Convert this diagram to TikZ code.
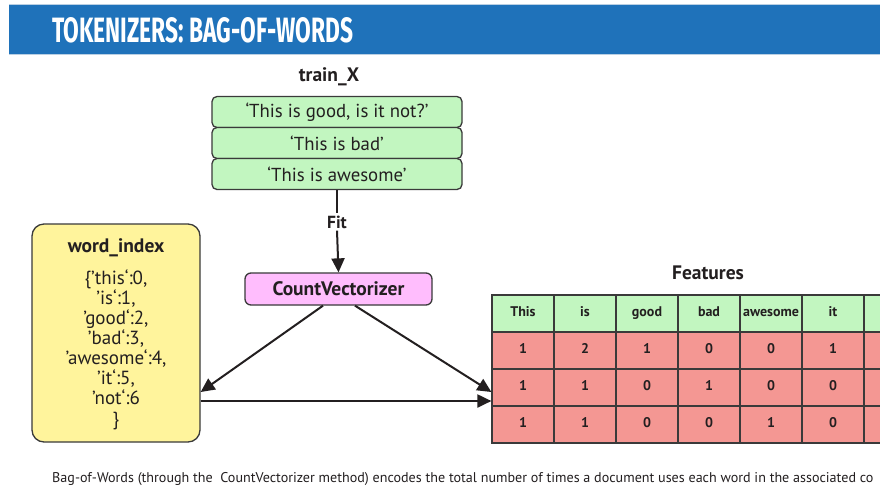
\documentclass[tikz,border=0pt]{standalone}
\usepackage{fontspec}
\setmainfont{PT Sans}
\newfontfamily\headfont{Fira Sans}
\usetikzlibrary{arrows.meta}

\definecolor{bannerblue}{HTML}{1F72BA}
\definecolor{bannerrim}{HTML}{B9CFE3}
\definecolor{docgreen}{HTML}{C2F6C0}
\definecolor{vecpink}{HTML}{FFBDFD}
\definecolor{idxyellow}{HTML}{FFF49C}
\definecolor{cellred}{HTML}{F49793}
\definecolor{ink}{HTML}{231F20}
\definecolor{rim}{HTML}{3A3A3A}

\begin{document}
\begin{tikzpicture}[
  x=1pt, y=-1pt,
  doc/.style={draw=rim, line width=1.3pt, fill=docgreen, rounded corners=5pt,
    minimum width=250pt, minimum height=31pt, inner sep=0pt, text=ink,
    font=\fontsize{18.8}{20}\selectfont},
  vecbox/.style={draw=rim, line width=1.3pt, fill=vecpink, rounded corners=6pt,
    minimum width=187pt, minimum height=32pt, inner sep=0pt, text=ink,
    font=\fontsize{19.5}{20}\selectfont\bfseries},
  idxbox/.style={draw=rim, line width=1.3pt, fill=idxyellow, rounded corners=12pt,
    minimum width=168pt, minimum height=218pt, inner sep=0pt},
  heading/.style={font=\fontsize{19.5}{22}\selectfont\bfseries, text=ink, inner sep=0pt},
  cell/.style={draw=rim, line width=1.2pt, minimum width=62pt, minimum height=37pt,
    inner sep=0pt, text height=1.55ex, text depth=0.4ex,
    font=\fontsize{14}{15}\selectfont\bfseries, text=ink},
  headcell/.style={cell, fill=docgreen},
  valcell/.style={cell, fill=cellred},
  link/.style={draw=ink, line width=2pt},
  flow/.style={link, -{Triangle[length=14pt, width=13pt]}}
]
\clip (0,0) rectangle (880,491);
\fill[white] (0,0) rectangle (880,491);

% title banner
\fill[bannerblue] (9,5) rectangle (880,54);
\draw[bannerrim, line width=1pt] (9,4.5) -- (880,4.5);
\draw[bannerrim, line width=0.8pt] (9,54.6) -- (880,54.6);
\node[anchor=west, inner sep=0pt, text=white] (title) at (52,30.5)
  {\resizebox{301pt}{25pt}{\headfont\bfseries TOKENIZERS: BAG-OF-WORDS}};

% training documents
\node[heading] (trainlbl) at (329,77) {train\_X};
\node[doc] (d1) at (337,112) {‘This is good, is it not?’};
\node[doc] (d2) at (337,143) {‘This is bad’};
\node[doc] (d3) at (337,174) {‘This is awesome’};

% vectorizer
\node[font=\fontsize{17.5}{20}\selectfont\bfseries, text=ink, inner sep=2pt] (fit) at (337,222) {Fit};
\node[vecbox] (cv) at (338.5,289) {CountVectorizer};
\draw[link] (d3.south) -- (fit.north);
\draw[flow] (fit.south) -- (cv.north);

% vocabulary
\node[idxbox] (wi) at (116,333) {};
\node[heading] (wititle) at (116,248) {word\_index};
\node[align=center, inner sep=0pt, text=ink,
  font=\fontsize{19}{20.1}\selectfont] (widict) at (116,349.5)
  {\{’this‘:0,\\ ’is‘:1,\\ ’good‘:2,\\ ’bad‘:3,\\ ’awesome‘:4,\\ ’it‘:5,\\ ’not‘:6\\ \}};

% feature table (last column runs past the edge)
\node[heading] (feat) at (708,273) {Features};
\foreach \w [count=\c] in {This,is,good,bad,awesome,it,{}}
  \node[headcell] (h-\c) at (492+62*\c-31,313.5) {\w};
\foreach \r/\vals in {1/{1,2,1,0,0,1,{}},2/{1,1,0,1,0,0,{}},3/{1,1,0,0,1,0,{}}}
  \foreach \v [count=\c] in \vals
    \node[valcell] (r\r-\c) at (492+62*\c-31,313.5+37*\r) {\v};

% connectors
\draw[flow] ([xshift=-15.5pt]cv.south) -- ([yshift=-59pt]wi.east);
\draw[flow] ([xshift=16.5pt]cv.south) -- ([yshift=-4.5pt]r2-1.west);
\draw[flow] ([yshift=-68pt]wi.east) -- ([yshift=-13.5pt]r2-1.west);

% caption
\node[anchor=west, inner sep=0pt, text=ink] (caption) at (52,479)
  {\fontsize{14.1}{15}\selectfont Bag-of-Words (through the\ \ CountVectorizer method) encodes the total number of times a document uses each word in the associated co};
\end{tikzpicture}
\end{document}
